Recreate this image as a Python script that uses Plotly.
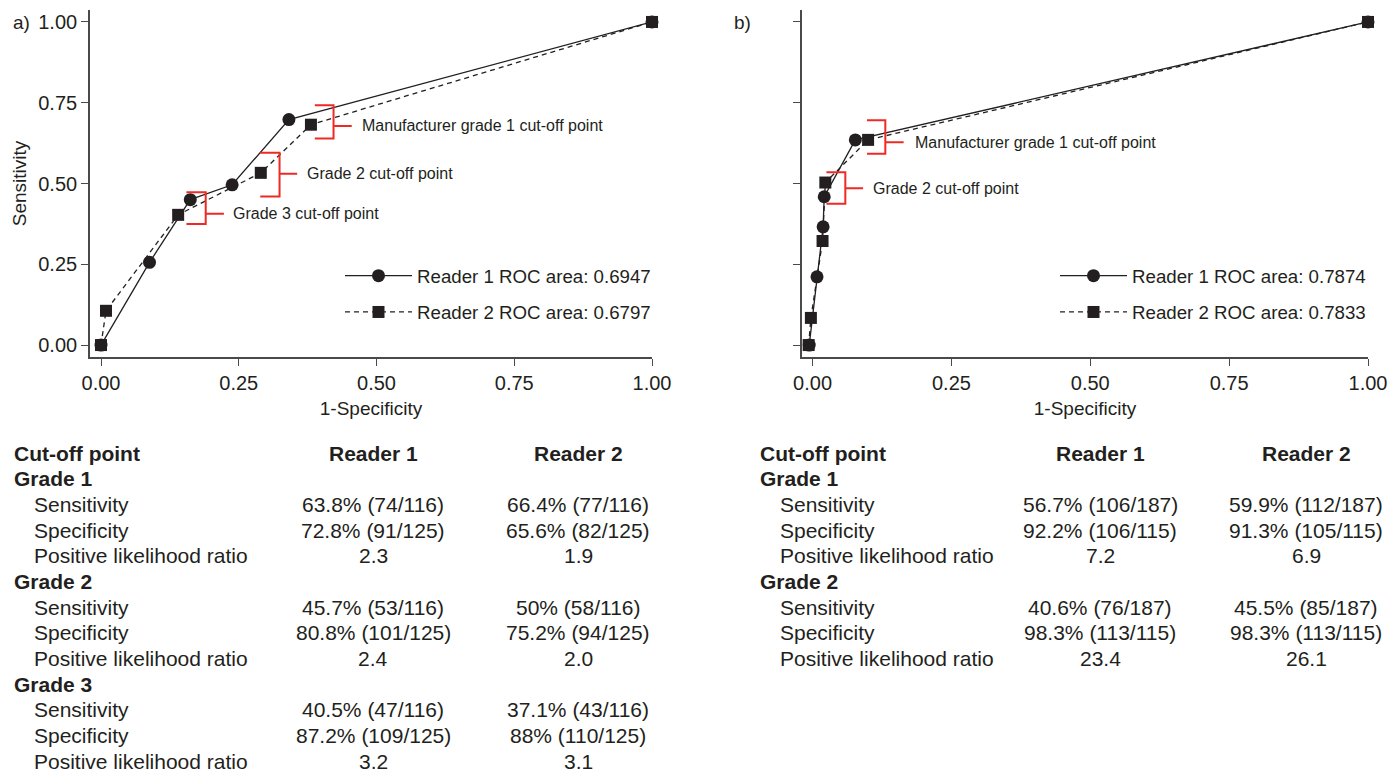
import plotly.graph_objects as go

# ---------------- data ----------------
# Panel a
a_r1_x = [0.0, 0.088, 0.162, 0.238, 0.341, 1.0]
a_r1_y = [0.0, 0.256, 0.450, 0.496, 0.698, 1.0]
a_r2_x = [0.0, 0.009, 0.140, 0.290, 0.381, 1.0]
a_r2_y = [0.0, 0.106, 0.403, 0.533, 0.682, 1.0]
a_r1_name = "Reader 1 ROC area: 0.6947"
a_r2_name = "Reader 2 ROC area: 0.6797"

# Panel b
b_r1_x = [-0.006, 0.008, 0.019, 0.021, 0.077, 1.0]
b_r1_y = [0.0, 0.211, 0.366, 0.459, 0.635, 1.0]
b_r2_x = [-0.007, -0.003, 0.018, 0.023, 0.100, 1.0]
b_r2_y = [0.0, 0.084, 0.322, 0.503, 0.635, 1.0]
b_r1_name = "Reader 1 ROC area: 0.7874"
b_r2_name = "Reader 2 ROC area: 0.7833"

tick_vals = [0, 0.25, 0.5, 0.75, 1.0]
tick_text = ["0.00", "0.25", "0.50", "0.75", "1.00"]

# Tables
table_header = ["Cut-off point", "Reader 1", "Reader 2"]
a_table_rows = [
    ("Grade 1", "", ""),
    ("Sensitivity", "63.8% (74/116)", "66.4% (77/116)"),
    ("Specificity", "72.8% (91/125)", "65.6% (82/125)"),
    ("Positive likelihood ratio", "2.3", "1.9"),
    ("Grade 2", "", ""),
    ("Sensitivity", "45.7% (53/116)", "50% (58/116)"),
    ("Specificity", "80.8% (101/125)", "75.2% (94/125)"),
    ("Positive likelihood ratio", "2.4", "2.0"),
    ("Grade 3", "", ""),
    ("Sensitivity", "40.5% (47/116)", "37.1% (43/116)"),
    ("Specificity", "87.2% (109/125)", "88% (110/125)"),
    ("Positive likelihood ratio", "3.2", "3.1"),
]
b_table_rows = [
    ("Grade 1", "", ""),
    ("Sensitivity", "56.7% (106/187)", "59.9% (112/187)"),
    ("Specificity", "92.2% (106/115)", "91.3% (105/115)"),
    ("Positive likelihood ratio", "7.2", "6.9"),
    ("Grade 2", "", ""),
    ("Sensitivity", "40.6% (76/187)", "45.5% (85/187)"),
    ("Specificity", "98.3% (113/115)", "98.3% (113/115)"),
    ("Positive likelihood ratio", "23.4", "26.1"),
]

# cut-off labels
a_cutoff_labels = ["Manufacturer grade 1 cut-off point", "Grade 2 cut-off point", "Grade 3 cut-off point"]
b_cutoff_labels = ["Manufacturer grade 1 cut-off point", "Grade 2 cut-off point"]

# ---------------- styling / layout ----------------
W, H = 1394, 773
FONT = "Liberation Sans, Arial, Helvetica, sans-serif"
INK = "#231f20"
AXC = "#4a4a4a"
RED = "#ee2a24"

def px_x(p):
    return p / W

def px_y(p):
    return 1 - p / H

fig = go.Figure()

def add_pair(r1x, r1y, r2x, r2y, n1, n2, xa, ya, leg):
    fig.add_trace(go.Scatter(
        x=r1x, y=r1y, name=n1, mode="lines+markers", xaxis=xa, yaxis=ya,
        line=dict(color=INK, width=1.3),
        marker=dict(symbol="circle", size=13, color=INK),
        cliponaxis=False, legend=leg, legendgroup=leg + "1"))
    fig.add_trace(go.Scatter(
        x=r2x, y=r2y, name=n2, mode="lines+markers", xaxis=xa, yaxis=ya,
        line=dict(color=INK, width=1.3, dash="5px,4px"),
        marker=dict(symbol="square", size=12, color=INK),
        cliponaxis=False, legend=leg, legendgroup=leg + "2"))

add_pair(a_r1_x, a_r1_y, a_r2_x, a_r2_y, a_r1_name, a_r2_name, "x", "y", "legend")
add_pair(b_r1_x, b_r1_y, b_r2_x, b_r2_y, b_r1_name, b_r2_name, "x2", "y2", "legend2")

ydom = [px_y(357), px_y(10)]
common_axis = dict(
    showline=True, linecolor=AXC, linewidth=1.6, ticks="outside", ticklen=7,
    tickwidth=1.3, tickcolor=AXC, showgrid=False, zeroline=False, automargin=False,
    tickfont=dict(family=FONT, size=20, color=INK), tickvals=tick_vals, ticktext=tick_text,
    fixedrange=True,
)

legend_common = dict(
    xanchor="left", yanchor="middle",
    font=dict(family=FONT, size=18.7, color=INK), itemwidth=67,
    bgcolor="rgba(0,0,0,0)", traceorder="grouped", tracegroupgap=9,
    itemclick=False, itemdoubleclick=False,
)

fig.update_layout(
    width=W, height=H, autosize=False,
    margin=dict(l=0, r=0, t=0, b=0, pad=0),
    paper_bgcolor="white", plot_bgcolor="white",
    font=dict(family=FONT, color=INK),
    xaxis=dict(domain=[px_x(90), px_x(652)], range=[-0.02, 1.0], anchor="y",
               title=dict(text="1-Specificity", font=dict(size=19, family=FONT, color=INK), standoff=9),
               **common_axis),
    yaxis=dict(domain=ydom, range=[-0.037, 1.037], anchor="x",
               title=dict(text="Sensitivity", font=dict(size=19, family=FONT, color=INK), standoff=7),
               **common_axis),
    xaxis2=dict(domain=[px_x(802), px_x(1368)], range=[-0.019, 1.0], anchor="y2",
                title=dict(text="1-Specificity", font=dict(size=19, family=FONT, color=INK), standoff=9),
                **common_axis),
    yaxis2=dict(domain=ydom, range=[-0.037, 1.037], anchor="x2", showticklabels=False,
                **{k: v for k, v in common_axis.items() if k not in ("tickfont",)}),
    legend=dict(x=px_x(340), y=px_y(294), **legend_common),
    legend2=dict(x=px_x(1055), y=px_y(294), **legend_common),
    showlegend=True,
)

# ---------------- cut-off brackets (annotation decorations) ----------------
# (vertical x, y bottom, y top, arm left x, tick right x, label y, label x)
a_brackets = [
    (0.422, 0.639, 0.742, 0.388, 0.455, 0.678, 0.470),
    (0.324, 0.460, 0.595, 0.289, 0.356, 0.530, 0.370),
    (0.190, 0.375, 0.473, 0.155, 0.223, 0.406, 0.236),
]
b_brackets = [
    (0.131, 0.592, 0.696, 0.098, 0.164, 0.628, 0.181),
    (0.059, 0.437, 0.535, 0.025, 0.091, 0.485, 0.106),
]

def add_brackets(specs, labels, xr, yr):
    for (xv, y0, y1, xl, xt, ym, xtext), lab in zip(specs, labels):
        path = f"M {xl},{y1} L {xv},{y1} L {xv},{y0} L {xl},{y0} M {xv},{ym} L {xt},{ym}"
        fig.add_shape(type="path", path=path, xref=xr, yref=yr,
                      line=dict(color=RED, width=2), layer="above")
        fig.add_annotation(x=xtext, y=ym, xref=xr, yref=yr, text=lab, showarrow=False,
                           xanchor="left", yanchor="middle",
                           font=dict(family=FONT, size=16, color=INK))

add_brackets(a_brackets, a_cutoff_labels, "x", "y")
add_brackets(b_brackets, b_cutoff_labels, "x2", "y2")

# panel labels
for lab, xp in (("a)", 11), ("b)", 732)):
    fig.add_annotation(x=px_x(xp), y=px_y(22), xref="paper", yref="paper", text=lab,
                       showarrow=False, xanchor="left", yanchor="middle",
                       font=dict(family=FONT, size=19, color=INK))

# ---------------- tables ----------------
def add_table(rows, x_label, x_indent, x_c1, x_c2):
    y0, step = 453, 25.67
    f = dict(family=FONT, size=21, color=INK)
    fig.add_annotation(x=px_x(x_label), y=px_y(y0), xref="paper", yref="paper",
                       text="<b>" + table_header[0] + "</b>", showarrow=False,
                       xanchor="left", yanchor="middle", font=f)
    for txt, xc in ((table_header[1], x_c1), (table_header[2], x_c2)):
        fig.add_annotation(x=px_x(xc), y=px_y(y0), xref="paper", yref="paper",
                           text="<b>" + txt + "</b>", showarrow=False,
                           xanchor="center", yanchor="middle", font=f)
    for i, (lab, v1, v2) in enumerate(rows):
        yy = px_y(y0 + (i + 1) * step)
        if v1 == "" and v2 == "":
            fig.add_annotation(x=px_x(x_label), y=yy, xref="paper", yref="paper",
                               text="<b>" + lab + "</b>", showarrow=False,
                               xanchor="left", yanchor="middle", font=f)
        else:
            fig.add_annotation(x=px_x(x_indent), y=yy, xref="paper", yref="paper",
                               text=lab, showarrow=False,
                               xanchor="left", yanchor="middle", font=f)
            for v, xc in ((v1, x_c1), (v2, x_c2)):
                fig.add_annotation(x=px_x(xc), y=yy, xref="paper", yref="paper",
                                   text=v, showarrow=False,
                                   xanchor="center", yanchor="middle", font=f)

add_table(a_table_rows, 12, 32, 373, 578)
add_table(b_table_rows, 758, 778, 1100, 1306)

fig.write_html(
    "out.html",
    config={"responsive": False, "displayModeBar": False},
    post_script="document.body.style.margin='0';document.body.style.overflow='hidden';",
)
